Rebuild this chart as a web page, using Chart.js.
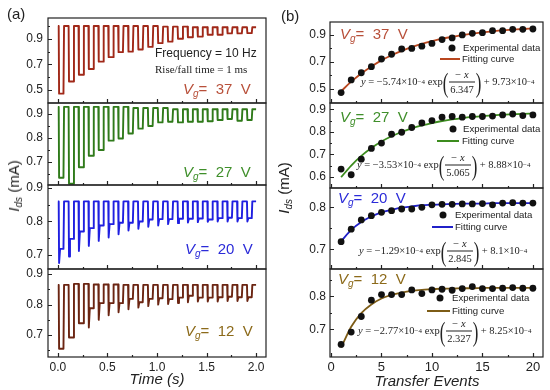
<!DOCTYPE html>
<html>
<head>
<meta charset="utf-8">
<script src="https://cdn.jsdelivr.net/npm/chart.js@4.4.0/dist/chart.umd.min.js"></script>
<style>
body { margin: 0; width: 550px; height: 390px; background: #fff; position: relative; overflow: hidden;
       font-family: "Liberation Sans", Arial, sans-serif; color: #222; }
canvas { position: absolute; }
.t { position: absolute; white-space: nowrap; line-height: 1; transform: translate(0, -50%); }
.tc { transform: translate(-50%, -50%); }
.vg { font-size: 15px; }
.vg i { font-style: italic; }
.vg sub { font-size: 10px; vertical-align: -3px; font-style: italic; }
.ytitle { font-size: 15px; transform: translate(-50%, -50%) rotate(-90deg); }
.ytitle sub { font-size: 10px; vertical-align: -3px; }
.xtitle { font-size: 15px; font-style: italic; }
.eq { font-family: "Liberation Serif", "Times New Roman", serif; font-size: 10.5px; display: flex; align-items: center; }
.eq sup { font-size: 7px; vertical-align: 5px; }
.eq .par { font-size: 28px; font-weight: 100; transform: scaleX(0.6); display: inline-block; margin: 0 -2px; }
.eq .fr { display: inline-flex; flex-direction: column; align-items: center; margin: 0 1px; }
.eq .fr span { line-height: 14px; }
.eq .de { border-top: 1px solid #222; padding: 0 1px; }
.lg { font-size: 9.6px; }
.dot { position: absolute; width: 7px; height: 7px; border-radius: 50%; background: #111; transform: translate(-50%, -50%); }
.ln { position: absolute; height: 2px; transform: translateY(-50%); }
</style>
</head>
<body>
<canvas id="a1"></canvas><canvas id="a2"></canvas><canvas id="a3"></canvas><canvas id="a4"></canvas>
<canvas id="b1"></canvas><canvas id="b2"></canvas><canvas id="b3"></canvas><canvas id="b4"></canvas>

<div class="t" style="left:7px;top:13px;font-size:15px">(a)</div>
<div class="t" style="left:281px;top:15px;font-size:15px">(b)</div>
<div class="t ytitle" style="left:15px;top:186px"><i>I</i><sub><i>ds</i></sub> (mA)</div>
<div class="t ytitle" style="left:285px;top:188px"><i>I</i><sub><i>ds</i></sub> (mA)</div>
<div class="t tc xtitle" style="left:157px;top:378px">Time (s)</div>
<div class="t tc xtitle" style="left:427px;top:380px">Transfer Events</div>

<div class="t" style="left:155px;top:53px;font-size:12px">Frequency = 10 Hz</div>
<div class="t" style="left:155px;top:69px;font-size:11px;font-family:'Liberation Serif',serif">Rise/fall time = 1 ms</div>

<div class="t vg" style="left:183px;top:90px;color:#b8503a"><i>V</i><sub>g</sub>=&nbsp; 37&nbsp; V</div>
<div class="t vg" style="left:183px;top:173px;color:#3f8f2a"><i>V</i><sub>g</sub>=&nbsp; 27&nbsp; V</div>
<div class="t vg" style="left:185px;top:250px;color:#2b2bd8"><i>V</i><sub>g</sub>=&nbsp; 20&nbsp; V</div>
<div class="t vg" style="left:185px;top:332px;color:#8c6a1a"><i>V</i><sub>g</sub>=&nbsp; 12&nbsp; V</div>

<div class="t vg" style="left:340px;top:35px;color:#b8503a"><i>V</i><sub>g</sub>=&nbsp; 37&nbsp; V</div>
<div class="t vg" style="left:340px;top:118px;color:#3f8f2a"><i>V</i><sub>g</sub>=&nbsp; 27&nbsp; V</div>
<div class="t vg" style="left:338px;top:199px;color:#2b2bd8"><i>V</i><sub>g</sub>=&nbsp; 20&nbsp; V</div>
<div class="t vg" style="left:338px;top:280px;color:#8c6a1a"><i>V</i><sub>g</sub>=&nbsp; 12&nbsp; V</div>

<!-- legends -->
<div class="dot" style="left:452px;top:48px"></div><div class="t lg" style="left:463px;top:48px">Experimental data</div>
<div class="ln" style="left:440px;top:59px;width:20px;background:#b9471f"></div><div class="t lg" style="left:462px;top:59px">Fitting curve</div>
<div class="dot" style="left:453px;top:129px"></div><div class="t lg" style="left:463px;top:129px">Experimental data</div>
<div class="ln" style="left:437px;top:141px;width:22px;background:#3c8c1e"></div><div class="t lg" style="left:462px;top:141px">Fitting curve</div>
<div class="dot" style="left:443px;top:215px"></div><div class="t lg" style="left:455px;top:215px">Experimental data</div>
<div class="ln" style="left:432px;top:227px;width:21px;background:#2020c8"></div><div class="t lg" style="left:455px;top:227px">Fitting curve</div>
<div class="dot" style="left:440px;top:298px"></div><div class="t lg" style="left:452px;top:298px">Experimental data</div>
<div class="ln" style="left:427px;top:311px;width:23px;background:#7d5c16"></div><div class="t lg" style="left:452px;top:311px">Fitting curve</div>

<!-- fitted equations -->
<div class="t eq" style="left:361px;top:82px"><i>y</i>&nbsp;=&nbsp;−5.74×10<sup>−4</sup>&nbsp;exp<span class="par">(</span><span class="fr"><span>−&nbsp;<i>x</i></span><span class="de">6.347</span></span><span class="par">)</span>&nbsp;+&nbsp;9.73×10<sup>−4</sup></div>
<div class="t eq" style="left:357px;top:165px"><i>y</i>&nbsp;=&nbsp;−3.53×10<sup>−4</sup>&nbsp;exp<span class="par">(</span><span class="fr"><span>−&nbsp;<i>x</i></span><span class="de">5.065</span></span><span class="par">)</span>&nbsp;+&nbsp;8.88×10<sup>−4</sup></div>
<div class="t eq" style="left:359px;top:251px"><i>y</i>&nbsp;=&nbsp;−1.29×10<sup>−4</sup>&nbsp;exp<span class="par">(</span><span class="fr"><span>−&nbsp;<i>x</i></span><span class="de">2.845</span></span><span class="par">)</span>&nbsp;+&nbsp;8.1×10<sup>−4</sup></div>
<div class="t eq" style="left:358px;top:331px"><i>y</i>&nbsp;=&nbsp;−2.77×10<sup>−4</sup>&nbsp;exp<span class="par">(</span><span class="fr"><span>−&nbsp;<i>x</i></span><span class="de">2.327</span></span><span class="par">)</span>&nbsp;+&nbsp;8.25×10<sup>−4</sup></div>

<script>
// ---- data (mA) ----
const PERIOD = 0.1; // 10 Hz pulses
const events = [1, 2, 3, 4, 5, 6, 7, 8, 9, 10, 11, 12, 13, 14, 15, 16, 17, 18, 19, 20];

// experimental points = current at the low level of each pulse
const exp37 = [0.473, 0.567, 0.620, 0.665, 0.722, 0.757, 0.796, 0.800, 0.817, 0.837, 0.866, 0.878, 0.900, 0.912, 0.917, 0.932, 0.932, 0.942, 0.942, 0.944];
const exp27 = [0.634, 0.609, 0.678, 0.726, 0.750, 0.789, 0.798, 0.819, 0.839, 0.850, 0.865, 0.868, 0.865, 0.868, 0.868, 0.870, 0.875, 0.879, 0.872, 0.875];
const exp20 = [0.718, 0.748, 0.770, 0.780, 0.788, 0.792, 0.796, 0.796, 0.800, 0.806, 0.807, 0.807, 0.808, 0.808, 0.809, 0.806, 0.810, 0.811, 0.810, 0.810];
const exp12 = [0.655, 0.692, 0.739, 0.788, 0.805, 0.805, 0.805, 0.819, 0.808, 0.819, 0.821, 0.818, 0.823, 0.829, 0.823, 0.823, 0.824, 0.826, 0.824, 0.824];

// fitting curves read at each event
const fit37 = [0.483, 0.554, 0.615, 0.667, 0.712, 0.750, 0.782, 0.810, 0.834, 0.854, 0.872, 0.886, 0.899, 0.910, 0.919, 0.927, 0.934, 0.939, 0.944, 0.948];
const fit27 = [0.598, 0.650, 0.693, 0.728, 0.757, 0.780, 0.799, 0.815, 0.828, 0.839, 0.848, 0.855, 0.861, 0.866, 0.870, 0.873, 0.876, 0.878, 0.880, 0.881];
const fit20 = [0.719, 0.746, 0.765, 0.778, 0.788, 0.794, 0.799, 0.802, 0.805, 0.806, 0.807, 0.808, 0.809, 0.809, 0.809, 0.810, 0.810, 0.810, 0.810, 0.810];
const fit12 = [0.645, 0.708, 0.749, 0.775, 0.793, 0.804, 0.811, 0.816, 0.819, 0.821, 0.823, 0.823, 0.824, 0.824, 0.825, 0.825, 0.825, 0.825, 0.825, 0.825];

// high level of each pulse in the time traces
const hi37 = [1.0, 1.0, 1.0, 1.0, 1.0, 1.0, 1.0, 1.0, 1.0, 1.0, 0.995, 0.995, 0.995, 0.99, 0.99, 0.99, 0.99, 0.99, 0.99, 0.99];
const hi27 = [0.93, 0.93, 0.93, 0.93, 0.93, 0.93, 0.93, 0.925, 0.925, 0.925, 0.925, 0.92, 0.92, 0.92, 0.92, 0.92, 0.92, 0.92, 0.92, 0.92];
const hi20 = [0.86, 0.86, 0.86, 0.86, 0.86, 0.86, 0.86, 0.86, 0.86, 0.86, 0.86, 0.86, 0.86, 0.86, 0.86, 0.86, 0.86, 0.86, 0.86, 0.86];
const hi12 = [0.865, 0.868, 0.868, 0.866, 0.866, 0.866, 0.865, 0.865, 0.865, 0.865, 0.865, 0.865, 0.865, 0.865, 0.865, 0.865, 0.865, 0.865, 0.865, 0.865];

// short dips at the falling edge (Vg = 20 V and 12 V)
const dip20 = [0.676, 0.695, 0.712, 0.727, 0.742, 0.752, 0.762, 0.773, 0.778, 0.784, 0.788, 0.792, 0.795, 0.797, 0.798, 0.799, 0.800, 0.800, 0.800, 0.800];
const dip12 = [0.655, 0.692, 0.739, 0.725, 0.750, 0.765, 0.775, 0.785, 0.790, 0.795, 0.800, 0.802, 0.805, 0.808, 0.810, 0.810, 0.810, 0.812, 0.812, 0.812];

const timeTicks = [0, 0.5, 1, 1.5, 2];
const timeMinor = [0.25, 0.75, 1.25, 1.75];
const eventTicks = [0, 5, 10, 15, 20];
const eventMinor = [2.5, 7.5, 12.5, 17.5];

// ---- helpers ----
function waveData(hi, lo, dip) {
  const pts = [{ x: 0, y: hi[0] }];
  for (let i = 0; i < lo.length; i++) {
    const t = i * PERIOD;
    pts.push({ x: t + 0.008, y: i ? hi[i - 1] : hi[0] });
    pts.push({ x: t + 0.012, y: dip[i] });
    pts.push({ x: t + 0.022, y: lo[i] });
    pts.push({ x: t + 0.056, y: lo[i] });
    pts.push({ x: t + 0.062, y: hi[i] });
  }
  pts.push({ x: 2.0, y: hi[hi.length - 1] });
  return pts;
}

function xy(xs, ys) {
  return xs.map((x, i) => ({ x: x, y: ys[i] }));
}

const frameTicks = {
  id: 'frameTicks',
  afterDraw(chart, args, o) {
    const { ctx, chartArea: a, scales } = chart;
    const x = scales.x, y = scales.y;
    ctx.save();
    ctx.strokeStyle = '#222';
    ctx.lineWidth = 1.2;
    ctx.beginPath();
    const tx = (v, len) => {
      if (v < x.min || v > x.max) return;
      const p = Math.round(x.getPixelForValue(v)) + 0.5;
      ctx.moveTo(p, a.bottom); ctx.lineTo(p, a.bottom - len);
    };
    const ty = (v, len) => {
      if (v < y.min || v > y.max) return;
      const p = Math.round(y.getPixelForValue(v)) + 0.5;
      ctx.moveTo(a.left, p); ctx.lineTo(a.left + len, p);
    };
    o.xMajor.forEach(v => tx(v, 4));
    o.xMinor.forEach(v => tx(v, 2));
    o.yMajor.forEach(v => ty(v, 4));
    o.yMinor.forEach(v => ty(v, 2));
    ctx.stroke();
    ctx.strokeRect(a.left, a.top, a.right - a.left, a.bottom - a.top);
    ctx.restore();
  }
};

const tickFont = { family: '"Liberation Sans", Arial, sans-serif', size: 12 };
const tickFontB = { family: '"Liberation Sans", Arial, sans-serif', size: 13 };

function subplot(id, box, xr, yr, xMajor, xMinor, yMajor, yMinor, datasets, showX, xFmt, yPad, xFont) {
  const cv = document.getElementById(id);
  const W = box.w + 50, H = box.h + 8 + (showX ? 22 : 0);
  cv.width = W; cv.height = H;
  cv.style.width = W + 'px'; cv.style.height = H + 'px';
  cv.style.left = (box.x - 44) + 'px';
  cv.style.top = (box.y - 4) + 'px';
  return new Chart(cv, {
    type: 'scatter',
    data: { datasets: datasets },
    options: {
      responsive: false,
      animation: false,
      events: [],
      layout: { padding: { left: 0, right: 6, top: 4, bottom: showX ? 0 : 4 } },
      plugins: { legend: { display: false }, tooltip: { enabled: false },
                 frameTicks: { xMajor, xMinor, yMajor, yMinor } },
      scales: {
        x: {
          type: 'linear', min: xr[0], max: xr[1],
          grid: { display: false, drawTicks: false, tickLength: 0 },
          border: { display: false },
          afterBuildTicks: s => { s.ticks = xMajor.map(v => ({ value: v })); },
          afterFit: s => { s.height = showX ? 22 : 0; s.paddingLeft = 0; s.paddingRight = 0; },
          ticks: { display: showX, padding: 3, color: '#222', font: xFont, maxRotation: 0,
                   autoSkip: false, callback: v => xFmt(v) }
        },
        y: {
          type: 'linear', min: yr[0], max: yr[1],
          grid: { display: false, drawTicks: false, tickLength: 0 },
          border: { display: false },
          afterBuildTicks: s => { s.ticks = yMajor.map(v => ({ value: v })); },
          afterFit: s => { s.width = 44; s.paddingTop = 0; s.paddingBottom = 0; },
          ticks: { padding: yPad, color: '#222', font: tickFont, autoSkip: false,
                   callback: v => v.toFixed(1) }
        }
      }
    },
    plugins: [frameTicks]
  });
}

function trace(data, color) {
  return { data: data, showLine: true, borderColor: color, borderWidth: 1.9, pointRadius: 0, tension: 0,
           borderJoinStyle: 'round' };
}
function points(ys) {
  return { data: xy(events, ys), showLine: false, pointRadius: 3.4, backgroundColor: '#111', borderWidth: 0 };
}
function fitLine(ys, color) {
  return { data: xy(events, ys), showLine: true, borderColor: color, borderWidth: 1.8, pointRadius: 0,
           cubicInterpolationMode: 'monotone' };
}

// ---- panel (a): time traces ----
const tf = v => v.toFixed(1);
const ef = v => String(v);
subplot('a1', { x: 48, y: 18, w: 218, h: 85 }, [-0.1, 2.1], [0.4, 1.062], timeTicks, timeMinor,
  [0.5, 0.7, 0.9], [0.6, 0.8, 1.0], [trace(waveData(hi37, exp37, exp37), '#a02818')], false, tf, 5, tickFont);
subplot('a2', { x: 48, y: 103, w: 218, h: 82 }, [-0.1, 2.1], [0.604, 0.946], timeTicks, timeMinor,
  [0.7, 0.8, 0.9], [0.65, 0.75, 0.85], [trace(waveData(hi27, exp27, exp27), '#2f7a1a')], false, tf, 5, tickFont);
subplot('a3', { x: 48, y: 185, w: 218, h: 84 }, [-0.1, 2.1], [0.658, 0.909], timeTicks, timeMinor,
  [0.7, 0.8, 0.9], [0.75, 0.85], [trace(waveData(hi20, exp20, dip20), '#1f1fe0')], false, tf, 5, tickFont);
subplot('a4', { x: 48, y: 269, w: 218, h: 84 }, [-0.1, 2.1], [0.628, 0.917], timeTicks, timeMinor,
  [0.7, 0.8, 0.9], [0.65, 0.75, 0.85], [trace(waveData(hi12, exp12, dip12), '#6b2512')], true, tf, 5, tickFont);

// ---- panel (b): transfer events + fits ----
subplot('b1', { x: 330, y: 22, w: 213, h: 81 }, [-0.1, 21], [0.396, 0.996], eventTicks, eventMinor,
  [0.5, 0.7, 0.9], [0.6, 0.8], [points(exp37), fitLine(fit37, '#b9471f')], false, ef, 4, tickFontB);
subplot('b2', { x: 330, y: 103, w: 213, h: 85 }, [-0.1, 21], [0.55, 0.928], eventTicks, eventMinor,
  [0.6, 0.7, 0.8, 0.9], [0.65, 0.75, 0.85], [points(exp27), fitLine(fit27, '#3c8c1e')], false, ef, 4, tickFontB);
subplot('b3', { x: 330, y: 188, w: 213, h: 81 }, [-0.1, 21], [0.653, 0.846], eventTicks, eventMinor,
  [0.7, 0.8], [0.75], [points(exp20), fitLine(fit20, '#2020c8')], false, ef, 4, tickFontB);
subplot('b4', { x: 330, y: 269, w: 213, h: 84 }, [-0.1, 21], [0.617, 0.882], eventTicks, eventMinor,
  [0.7, 0.8], [0.75, 0.85], [points(exp12), fitLine(fit12, '#7d5c16')], true, ef, 4, tickFontB);
</script>
</body>
</html>
